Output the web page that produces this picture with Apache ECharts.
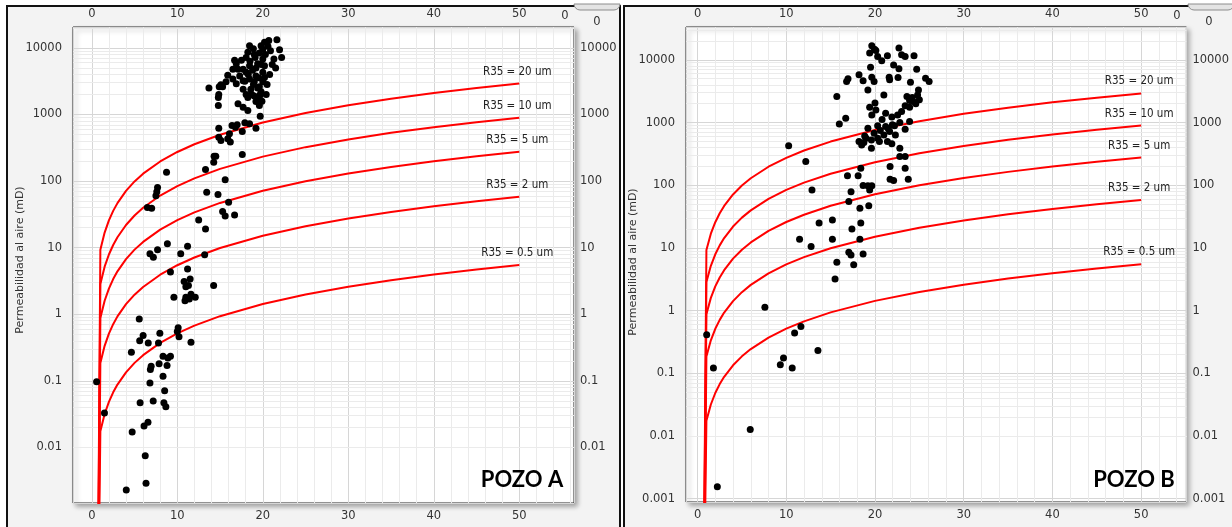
<!DOCTYPE html>
<html>
<head>
<meta charset="utf-8">
<script src="https://cdn.jsdelivr.net/npm/echarts@6/dist/echarts.min.js"></script>
<style>
html,body{margin:0;padding:0;background:#fff;width:1232px;height:527px;overflow:hidden;}
.panel{position:absolute;background:#f3f3f3;border:2px solid #111;box-sizing:border-box;}
#chart{position:absolute;left:0;top:0;width:1232px;height:527px;}
</style>
</head>
<body>
<div class="panel" style="left:6px;top:5px;width:615px;height:540px"></div>
<div class="panel" style="left:623px;top:5px;width:620px;height:540px"></div>
<div id="chart"></div>
<script>
// ---------- DATA ----------
const xTickLabels = [0, 10, 20, 30, 40, 50];
const curveNames = ['R35 = 20 um', 'R35 = 10 um', 'R35 = 5 um', 'R35 = 2 um', 'R35 = 0.5 um'];
// porosity (%) points of the R35 curves
const curvePhi = [0.6, 1, 1.5, 2, 2.5, 3, 4, 5, 6, 8, 10, 12, 15, 20, 25, 30, 35, 40, 45, 50];
// permeability (mD)
const r35_20 = [1e-6, 9.28, 16.85, 25.7, 35.7, 46.7, 71.2, 98.8, 129.2, 197.2, 273.6, 357.6, 496.5, 757.7, 1052, 1375, 1725, 2098, 2494, 2912];
const r35_10 = [1e-6, 2.855, 5.183, 7.907, 10.97, 14.35, 21.89, 30.39, 39.72, 60.64, 84.14, 110.0, 152.7, 233.0, 323.4, 422.8, 530.4, 645.2, 767.1, 895.6];
const r35_5 = [1e-6, 0.8787, 1.595, 2.433, 3.377, 4.416, 6.737, 9.352, 12.22, 18.66, 25.89, 33.85, 46.99, 71.71, 99.53, 130.1, 163.2, 198.5, 236.0, 275.6];
const r35_2 = [1e-6, 0.185, 0.3357, 0.5122, 0.7109, 0.9297, 1.418, 1.969, 2.573, 3.928, 5.45, 7.126, 9.891, 15.1, 20.95, 27.39, 34.36, 41.8, 49.69, 58.02];
const r35_05 = [1e-6, 0.01751, 0.03177, 0.04848, 0.06728, 0.08799, 0.1342, 0.1863, 0.2435, 0.3718, 0.5159, 0.6744, 0.9362, 1.429, 1.983, 2.592, 3.252, 3.956, 4.703, 5.491];

// POZO A samples: [porosity %, permeability mD]
const pozoA = [
[0.56,0.097],[1.48,0.033],[4.03,0.0023],[4.72,0.017],[4.63,0.27],[5.65,0.047],[6.11,0.021],[6.25,0.0075],[6.34,0.0029],[6.57,0.024],
[6.8,0.093],[6.85,0.148],[6.94,0.166],[7.18,0.05],[7.87,0.18],[8.33,0.117],[8.33,0.235],[8.43,0.047],[8.52,0.071],[8.66,0.041],
[8.8,0.17],[8.9,0.22],[9.2,0.235],
[8.74,136],[7.69,80],[7.6,69],[7.5,60],[6.5,40],[7.0,39],[13.44,68],[14.76,63],[13.3,149],[14.3,236],[14.5,236],[14.26,192],
[15.6,105],[16.0,48],[15.3,35],[15.6,30],[16.7,31],[12.5,26],[13.3,19],[8.84,11.5],[7.69,9.3],[6.8,8.1],[7.2,7.2],[10.4,8.1],
[11.2,10.5],[13.2,7.8],[9.2,4.3],[11.2,4.8],[11.5,3.4],[10.8,3.1],[11.0,2.6],[11.3,2.7],[14.25,2.7],[9.6,1.8],[11.0,1.8],[11.4,1.7],
[12.1,1.8],[10.9,1.6],[11.6,2.0],[5.55,0.85],[6.0,0.48],[5.6,0.40],[6.6,0.37],[7.96,0.52],[7.8,0.37],[10.1,0.63],[10.0,0.55],
[10.2,0.46],[11.6,0.38],
[21.65,13300],[20.7,12900],[20.2,12200],[19.8,10800],[20.6,10600],[21.96,9400],[20.9,9100],[18.45,10800],[18.9,9700],[19.6,8400],
[18.25,8600],[22.2,7200],[21.3,6800],[20.0,6800],[19.1,7200],[18.05,7200],[17.5,6500],[21.5,5000],[20.2,5400],[19.4,5800],
[18.45,5400],[17.7,4800],[16.7,6500],[16.9,5800],[17.1,4800],[16.5,4800],[20.0,4300],[18.8,4600],[18.05,4300],[17.3,3800],
[15.9,3900],[20.2,3600],[19.2,3800],[18.45,3400],[16.5,3400],[20.0,3100],[19.0,3100],[17.7,3200],[16.9,2900],[15.7,3100],
[15.1,2800],[14.9,2600],[19.6,2600],[18.6,2400],[17.7,2400],[15.3,2600],[13.7,2500],[19.8,2200],[18.05,2000],[19.0,1900],
[14.85,2000],[14.8,1800],[19.6,1760],[18.25,1800],[19.2,1570],[19.6,1360],[17.1,1450],[14.8,1360],[17.7,1290],[18.25,1150],
[19.7,944],[14.85,624],[16.4,684],[17.0,700],[17.9,750],[18.45,725],[16.8,645],[19.2,624],[17.6,556],[16.1,513],
[14.85,457],[15.1,407],[16.2,385],[15.9,431],[17.6,251],
[18.5,6310],[19.2,5010],[19.8,5620],[20.3,7940],[19.5,3550],[20.5,2820],[18.9,2820],[19.7,2000],[20.8,3980],[18.3,3980],
[19.0,7940],[20.0,9550],[18.7,2000],[19.4,2510],[20.4,2000],[17.9,3160],[21.1,5620],[19.9,1580]
];

// POZO B samples: [porosity %, permeability mD]
const pozoB = [
[1.03,0.41],[1.79,0.121],[2.23,0.00155],[5.94,0.0127],[7.59,1.13],[9.33,0.137],[9.69,0.175],[10.67,0.121],[10.94,0.44],[11.65,0.56],
[13.57,0.23],[15.5,3.2],[15.7,5.9],[17.6,5.4],
[19.64,16700],[19.95,14800],[20.1,14100],[22.7,15400],[19.4,12800],[20.3,11300],[21.4,11600],[23.0,12000],[23.4,11300],[24.4,11600],
[20.76,9640],[22.1,8300],[19.5,7640],[22.7,7180],[24.7,7080],[18.2,5760],[19.64,5280],[21.6,5280],[22.6,5220],[16.96,4980],
[16.8,4510],[18.66,4620],[19.9,4510],[21.65,4790],[24.0,4400],[25.7,5090],[26.1,4510],[19.2,3310],[21.0,2760],[15.7,2600],
[24.9,3310],[24.8,2760],[23.6,2600],[25.0,2300],[24.3,2160],[20.0,2040],[19.4,1760],[23.4,1850],[23.9,1760],[20.1,1590],
[23.0,1500],[21.2,1410],[19.64,1320],[22.55,1320],[16.7,1170],[21.9,1220],[15.98,950],[23.9,1040],[22.8,1000],[21.96,920],
[21.2,863],[20.3,886],[19.2,813],[20.6,746],[21.65,718],[23.4,783],[19.9,676],[18.84,612],[21.0,631],[22.3,631],
[20.3,562],[18.2,498],[18.75,479],[19.6,525],[21.4,498],[18.5,440],[21.9,457],[19.6,389],[22.8,389],[10.27,425],
[22.8,287],[23.4,287],[12.2,240],[18.4,186],[21.7,199],[23.4,186],[16.9,141],[18.1,141],[21.7,125],[22.1,119],
[23.75,125],[12.9,84],[17.3,79],[18.66,99],[19.2,98],[19.64,98],[19.4,84],[17.05,55],[18.3,43],[19.3,47],
[13.7,25],[15.2,28],[18.4,25],[17.4,20],[11.5,13.7],[15.2,13.7],[18.3,13.7],[12.8,10.5],[17.05,8.5],[17.3,7.7],[18.66,8.0],
[20.5,500],[21.5,794],[22.2,891],[19.0,562],[24.2,2510],[24.6,2000],[23.9,2240],[20.8,1120]
];

// ---------- LAYOUT / STYLE ----------
const curves = [r35_20, r35_10, r35_5, r35_2, r35_05];
const minorX = [2,4,6,8,12,14,16,18,22,24,26,28,32,34,36,38,42,44,46,48,52,54,56];
const minorMult = [2,3,4,5,6,7,8,9];
const decades = [0.0001,0.001,0.01,0.1,1,10,100,1000,10000];
const minorYAll = [];
decades.forEach(d => minorMult.forEach(m => minorYAll.push(+(m * d).toPrecision(3))));

const panels = [
  { grid: {left: 73, top: 27, width: 501, height: 476}, xMin: -2.2, xMax: 56.4, yMin: 0.001466, yMax: 20600, data: pozoA },
  { grid: {left: 686, top: 27, width: 501, height: 475}, xMin: -1.3, xMax: 55.1, yMin: 0.000885, yMax: 33400, data: pozoB }
];

const FONT = "'DejaVu Sans', Verdana, sans-serif";
const labelStyle = {color: '#333', fontSize: 11.5, fontFamily: FONT};
const fmtY = v => String(parseFloat(Number(v).toPrecision(4)));

const grids = [], xAxes = [], yAxes = [], series = [];
panels.forEach((p, gi) => {
  grids.push(Object.assign({
    show: true, backgroundColor: '#fff', borderColor: '#2a2a2a', borderWidth: 1,
    shadowColor: 'rgba(0,0,0,0.35)', shadowBlur: 5, shadowOffsetX: 3, shadowOffsetY: 3
  }, p.grid));
  ['bottom', 'top'].forEach((pos, k) => {
    xAxes.push({
      type: 'value', gridIndex: gi, position: pos, min: p.xMin, max: p.xMax,
      axisLine: {show: false}, axisTick: {show: false},
      axisLabel: Object.assign({showMinLabel: false, showMaxLabel: false, margin: 7,
        formatter: v => (xTickLabels.indexOf(v) >= 0 ? String(v) : '')}, labelStyle),
      splitLine: {show: k === 0, lineStyle: {color: '#d6d6d6', width: 1}}
    });
  });
  ['left', 'right'].forEach((pos, k) => {
    yAxes.push({
      type: 'log', logBase: 10, gridIndex: gi, position: pos, min: p.yMin, max: p.yMax,
      axisLine: {show: false}, axisTick: {show: false},
      axisLabel: Object.assign({showMinLabel: false, showMaxLabel: false, margin: k === 0 ? 11 : 6, formatter: fmtY}, labelStyle),
      splitLine: {show: k === 0, lineStyle: {color: '#d6d6d6', width: 1}}
    });
  });
  const xi = gi * 2, yi = gi * 2;
  const minorY = minorYAll.filter(v => v > p.yMin && v < p.yMax);
  const mx = minorX.filter(v => v > p.xMin && v < p.xMax);
  series.push({
    type: 'line', xAxisIndex: xi, yAxisIndex: yi, data: [], silent: true, z: 1,
    markLine: {
      z: 1, silent: true, symbol: ['none', 'none'], animation: false,
      label: {show: false}, emphasis: {disabled: true},
      lineStyle: {color: '#ebebeb', width: 1, type: 'solid'},
      data: minorY.map(v => ({yAxis: v})).concat(mx.map(v => ({xAxis: v})))
    }
  });
  curves.forEach((c, ci) => {
    series.push({
      type: 'line', name: curveNames[ci], xAxisIndex: xi, yAxisIndex: yi,
      data: curvePhi.map((phi, i) => [phi, c[i]]),
      showSymbol: false, symbol: 'none', silent: true, z: 3, animation: false,
      lineStyle: {color: '#ff0000', width: 2},
      endLabel: {show: true, formatter: curveNames[ci], distance: 0, align: 'center', verticalAlign: 'bottom',
        offset: [-2, -6], color: '#222', fontSize: 11.5,
        fontFamily: "'DejaVu Sans Condensed', 'Liberation Sans Narrow', sans-serif"}
    });
  });
  series.push({
    type: 'scatter', xAxisIndex: xi, yAxisIndex: yi, data: p.data,
    symbol: 'circle', symbolSize: 7, itemStyle: {color: '#000', opacity: 1}, z: 6, silent: true, animation: false
  });
});

const txt = (x, y, text, extra) => ({type: 'text', x: x, y: y, silent: true, z: 100,
  style: Object.assign({text: text, fill: '#333', font: '11.5px ' + FONT, align: 'center', verticalAlign: 'middle'}, extra || {})});
const tab = (x) => ({type: 'rect', silent: true, z: 90, shape: {x: x, y: 4, width: 46, height: 6, r: [0, 0, 6, 6]},
  style: {fill: '#e4e4e4', stroke: '#8c8c8c', lineWidth: 1}});

const yTitleA = txt(20, 260, 'Permeabilidad al aire (mD)', {font: '11px ' + FONT});
const yTitleB = txt(633, 262, 'Permeabilidad al aire (mD)', {font: '11px ' + FONT});
yTitleA.rotation = Math.PI / 2;
yTitleB.rotation = Math.PI / 2;

const graphic = [
  yTitleA, yTitleB,
  txt(522, 480, 'POZO A', {font: 'bold 22px Lato, "Open Sans", sans-serif', fill: '#000'}),
  txt(1134, 480, 'POZO B', {font: 'bold 22px Lato, "Open Sans", sans-serif', fill: '#000'}),
  tab(574), tab(1188),
  txt(565, 16, '0'), txt(597, 22, '0'),
  txt(1177, 16, '0'), txt(1209, 22, '0')
];

const chart = echarts.init(document.getElementById('chart'), null, {renderer: 'canvas', width: 1232, height: 527});
chart.setOption({
  backgroundColor: 'transparent',
  animation: false,
  grid: grids, xAxis: xAxes, yAxis: yAxes, series: series, graphic: graphic
});
</script>
</body>
</html>
